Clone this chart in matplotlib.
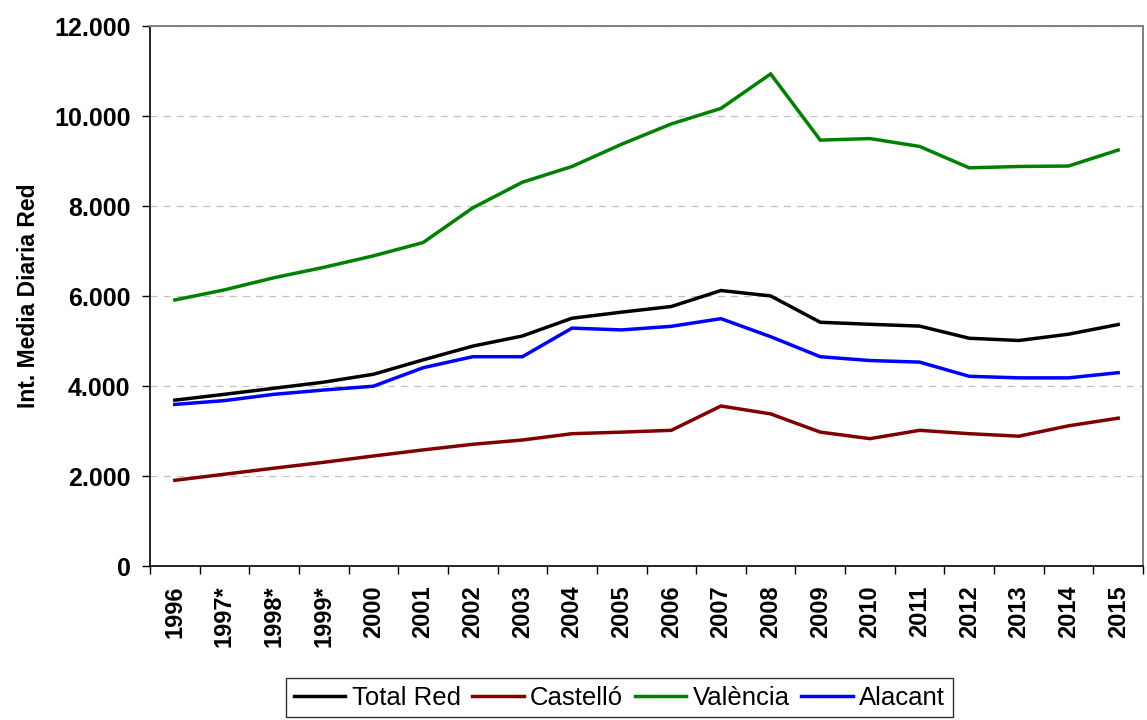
import numpy as np
import matplotlib
matplotlib.use("Agg")
import matplotlib.pyplot as plt
from matplotlib.ticker import FuncFormatter, FixedLocator

plt.rcParams['font.family'] = ['Liberation Sans', 'DejaVu Sans']
plt.rcParams['lines.scale_dashes'] = False

# data
years = ['1996', '1997*', '1998*', '1999*', '2000', '2001', '2002', '2003', '2004', '2005',
         '2006', '2007', '2008', '2009', '2010', '2011', '2012', '2013', '2014', '2015']
total_red = [3690, 3820, 3955, 4090, 4265, 4585, 4890, 5115, 5510, 5645,
             5770, 6125, 6005, 5420, 5375, 5335, 5065, 5015, 5155, 5370]
castello = [1910, 2045, 2180, 2310, 2450, 2585, 2710, 2805, 2945, 2980,
            3020, 3560, 3385, 2980, 2835, 3020, 2945, 2890, 3120, 3290]
valencia = [5915, 6140, 6410, 6640, 6895, 7190, 7960, 8530, 8880, 9375,
            9825, 10170, 10935, 9465, 9500, 9325, 8850, 8880, 8890, 9245]
alacant = [3595, 3680, 3820, 3915, 4000, 4410, 4655, 4655, 5290, 5250,
           5330, 5500, 5100, 4655, 4570, 4535, 4220, 4185, 4185, 4300]

series = [('Total Red', total_red, '#000000'),
          ('Castelló', castello, '#800000'),
          ('València', valencia, '#008000'),
          ('Alacant', alacant, '#0000ff')]

fig = plt.figure(figsize=(11.47, 7.2), dpi=100)
ax = fig.add_axes([150/1147, 1 - 566.3/720, (1143 - 150)/1147, (566.3 - 26)/720])

x = np.arange(len(years))
for name, vals, col in series:
    ax.plot(x, vals, color=col, lw=2.5, label=name, solid_joinstyle='miter')

ax.set_xlim(-0.5, len(years) - 0.5)
ax.set_ylim(0, 12000)
ax.set_yticks(np.arange(0, 12001, 2000))
ax.yaxis.set_major_formatter(FuncFormatter(lambda v, p: f"{int(v):,}".replace(',', '.')))

# category labels at centres, tick marks on the boundaries
ax.set_xticks(x)
ax.set_xticklabels(years, rotation=90, fontsize=17, fontweight='bold')
ax.xaxis.set_minor_locator(FixedLocator(np.arange(-0.5, len(years), 1)))
ax.tick_params(axis='x', which='major', length=0, pad=14)
ax.tick_params(axis='x', which='minor', length=6, width=1, direction='out')
ax.tick_params(axis='y', length=6, width=1, direction='out', labelsize=18, pad=8)
for lbl in ax.get_yticklabels():
    lbl.set_fontweight('bold')

ax.grid(axis='y', color='#c0c0c0', lw=0.9, dashes=(5, 4.5))
ax.set_axisbelow(True)

for side in ['left', 'bottom']:
    ax.spines[side].set_color('black')
    ax.spines[side].set_linewidth(1.2)
for side in ['top', 'right']:
    ax.spines[side].set_color('#808080')
    ax.spines[side].set_linewidth(1.4)

ax.set_ylabel('Int. Media Diaria Red', fontsize=16.5, fontweight='bold')
ax.yaxis.set_label_coords((40 - 150)/993, 0.5)

leg = fig.legend(loc='upper center', bbox_to_anchor=(619.5/1147, 42/720), ncol=4,
                 fontsize=18.5, frameon=True, fancybox=False, edgecolor='black',
                 handlelength=2.0, handletextpad=0.25, columnspacing=0.45,
                 borderpad=0.3, borderaxespad=0)
leg.get_frame().set_linewidth(1.0)

fig.savefig('out.png', dpi=100)
